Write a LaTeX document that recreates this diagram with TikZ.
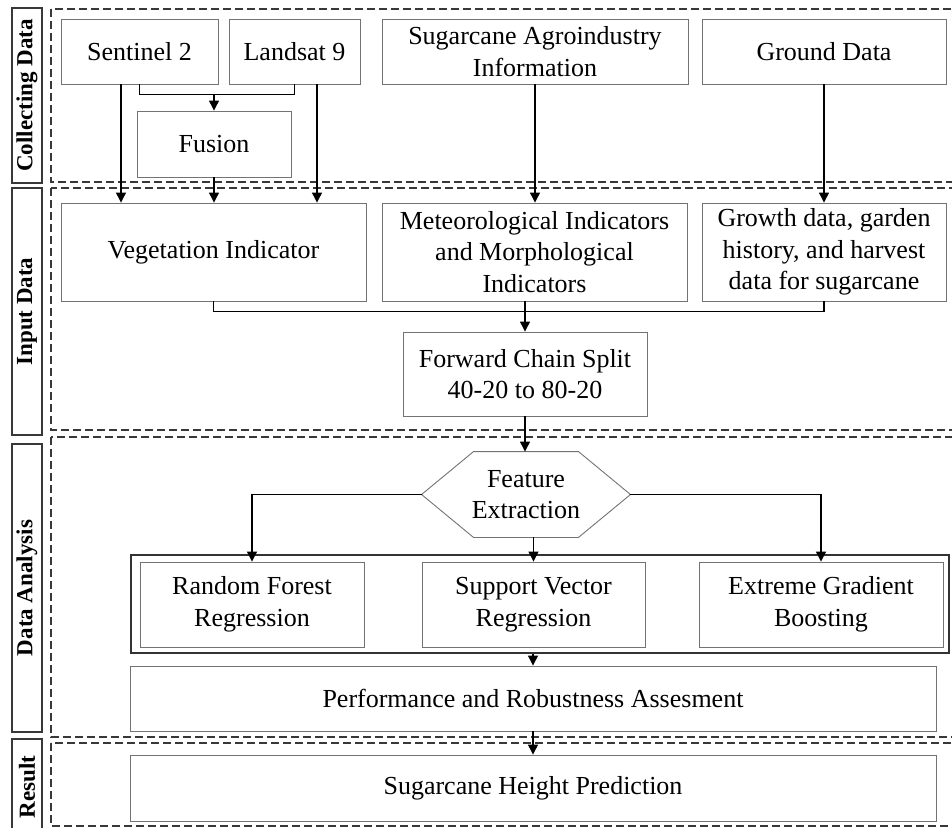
\documentclass[tikz,border=0pt]{standalone}
\usepackage{fontspec}
\setmainfont{Liberation Serif}
\usetikzlibrary{arrows.meta,calc}
\begin{document}
\begin{tikzpicture}[x=1pt,y=-1pt,
  box/.style={draw=black!55, line width=0.9pt, align=center, inner sep=2pt,
    font=\fontsize{26}{31.5}\selectfont},
  lbl/.style={draw=black!78, line width=1.6pt, rotate=90, align=center, inner sep=0pt,
    font=\fontsize{23}{27}\selectfont\bfseries},
  panel/.style={draw=black!78, line width=1.2pt, dash pattern=on 8pt off 4pt},
  conn/.style={draw=black, line width=1.2pt},
  arr/.style={conn, -{Triangle[length=10pt,width=10pt]}}
]
\useasboundingbox (0,0) rectangle (952,827);
% panels
\draw[panel] (51,9) rectangle (970,182);
\draw[panel] (51,188) rectangle (970,430);
\draw[panel] (51,437) rectangle (970,737);
\draw[panel] (51,743) rectangle (970,826);
% side labels
\node[lbl, minimum width=175pt, minimum height=30pt] (L1) at (27,95.5) {Collecting Data};
\node[lbl, minimum width=247pt, minimum height=30pt] (L2) at (27,311.5) {Input Data};
\node[lbl, minimum width=288pt, minimum height=30pt] (L3) at (27,588) {Data Analysis};
\node[lbl, minimum width=96pt, minimum height=30pt] (L4) at (27,787) {Result};
% collecting data
\node[box, minimum width=157pt, minimum height=65pt] (s2) at (139.5,51.5) {Sentinel 2};
\node[box, minimum width=131pt, minimum height=65pt] (l9) at (294.5,51.5) {Landsat 9};
\node[box, minimum width=306pt, minimum height=65pt] (sai) at (535,51.5) {Sugarcane Agroindustry\\Information};
\node[box, minimum width=244pt, minimum height=65pt] (gd) at (824,51.5) {Ground Data};
\node[box, minimum width=154pt, minimum height=66pt] (fus) at (214,144) {Fusion};
% input data
\node[box, minimum width=305pt, minimum height=98pt] (veg) at (213.5,252) {Vegetation Indicator};
\node[box, minimum width=305pt, minimum height=98pt] (met) at (534.5,252) {Meteorological Indicators\\and Morphological\\Indicators};
\node[box, minimum width=244pt, minimum height=98pt] (gro) at (824,252) {Growth data, garden\\history, and harvest\\data for sugarcane};
\node[box, minimum width=244pt, minimum height=84pt] (fcs) at (525,374) {Forward Chain Split\\40-20 to 80-20};
% data analysis
\node[box, draw=none, minimum width=208pt, minimum height=85pt] (fe) at (526,494.5) {Feature\\Extraction};
\draw[draw=black!55, line width=0.9pt] (fe.west) -- ([xshift=52pt]fe.north west) -- ([xshift=-52pt]fe.north east) -- (fe.east) -- ([xshift=-52pt]fe.south east) -- ([xshift=52pt]fe.south west) -- cycle;
\node[draw=black!80, line width=1.6pt, minimum width=818pt, minimum height=98pt, inner sep=0pt] (mdl) at (540,604) {};
\node[box, minimum width=224pt, minimum height=85pt] (rfr) at (252,604.5) {Random Forest\\Regression};
\node[box, minimum width=223pt, minimum height=85pt] (svr) at (533.5,604.5) {Support Vector\\Regression};
\node[box, minimum width=244pt, minimum height=85pt] (xgb) at (821,604.5) {Extreme Gradient\\Boosting};
\node[box, minimum width=806pt, minimum height=65pt] (perf) at (533,698.5) {Performance and Robustness Assesment};
% result
\node[box, minimum width=806pt, minimum height=66pt] (shp) at (533,788) {Sugarcane Height Prediction};
% connectors
\coordinate (s2a) at ([xshift=-18.5pt]s2.south);
\coordinate (l9a) at ([xshift=22.5pt]l9.south);
\coordinate (fj) at ([yshift=-10pt]fus.north |- s2.south);
\draw[conn] (s2.south) |- (fj) -| (l9.south);
\draw[arr] (fj) -- (fus.north);
\draw[arr] (s2a) -- (s2a |- veg.north);
\draw[arr] (fus.south) -- (fus.south |- veg.north);
\draw[arr] (l9a) -- (l9a |- veg.north);
\draw[arr] (sai.south) -- (sai.south |- met.north);
\draw[arr] (gd.south) -- (gro.north);
\coordinate (mj) at ([yshift=-10pt]fcs.north |- veg.south);
\draw[conn] (veg.south) |- (mj) -| (gro.south);
\draw[arr] (fcs.north |- met.south) -- (fcs.north);
\draw[arr] (fcs.south) -- (fcs.south |- fe.north);
\draw[arr] (fe.west) -| (rfr.north);
\draw[arr] (svr.north |- fe.south) -- (svr.north);
\draw[arr] (fe.east) -| (xgb.north);
\draw[arr] (perf.north |- mdl.south) -- (perf.north);
\draw[arr] (perf.south) -- (shp.north);
\end{tikzpicture}
\end{document}
